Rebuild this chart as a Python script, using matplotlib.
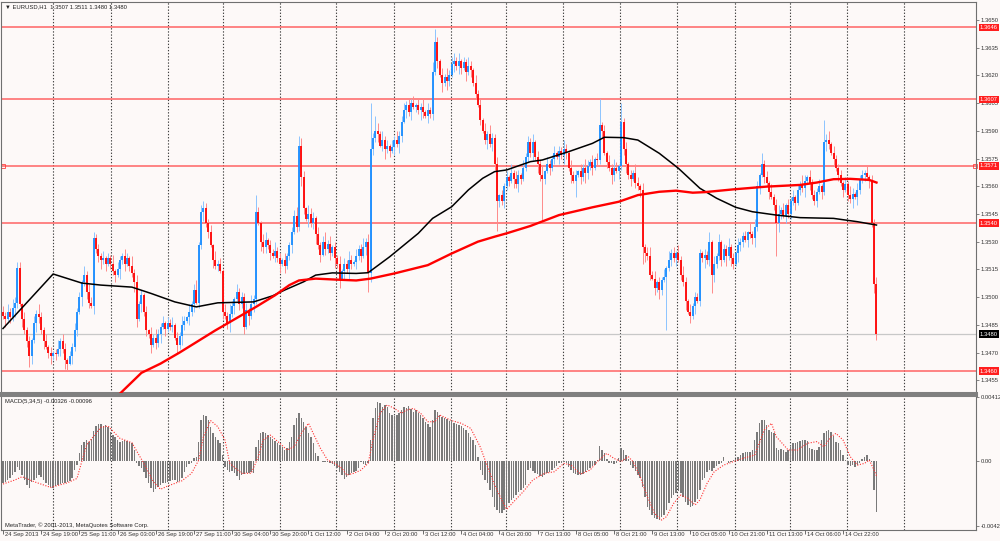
# EURUSD H1 chart in the MetaTrader style: candles, two moving averages, levels, MACD
import numpy as np
import matplotlib
matplotlib.use("Agg")
import matplotlib.pyplot as plt
import matplotlib.transforms as mtransforms
from matplotlib import font_manager

installed = {f.name for f in font_manager.fontManager.ttflist}
if 'Liberation Sans Narrow' in installed:
    FAM = ['Liberation Sans Narrow', 'DejaVu Sans']
    FS = 5.1
else:
    FAM = ['Liberation Sans', 'DejaVu Sans']
    FS = 4.2
plt.rcParams['font.family'] = FAM

# closes in pips above 1.3400, one per hourly bar
closes = [
    90, 88, 92, 89, 94, 97, 116, 96, 88, 82,
    76, 68, 77, 86, 91, 89, 82, 76, 73, 70,
    68, 70, 69, 72, 76, 72, 66, 64, 68, 73,
    82, 92, 100, 108, 112, 103, 97, 95, 132, 126,
    122, 120, 121, 118, 121, 118, 114, 112, 115, 120,
    122, 118, 121, 117, 113, 108, 88, 96, 101, 92,
    82, 80, 74, 78, 75, 80, 84, 86, 83, 86,
    84, 85, 78, 74, 79, 85, 87, 89, 92, 96,
    104, 97, 128, 146, 148, 140, 135, 128, 120, 117,
    118, 114, 92, 90, 86, 91, 95, 99, 103, 96,
    100, 84, 93, 90, 96, 99, 146, 140, 130, 127,
    131, 128, 124, 122, 125, 121, 118, 120, 117, 122,
    128, 135, 144, 138, 182, 165, 148, 142, 145, 140,
    143, 134, 128, 123, 130, 126, 129, 124, 127, 121,
    118, 110, 114, 118, 115, 120, 118, 119, 122, 126,
    122, 127, 130, 113, 180, 186, 190, 188, 182, 185,
    180, 182, 179, 181, 185, 183, 187, 195, 201, 204,
    200, 205, 203, 204, 201, 203, 200, 198, 201, 199,
    222, 238, 228, 220, 216, 219, 217, 220, 226, 228,
    225, 228, 224, 227, 222, 225, 223, 216, 210, 204,
    196, 190, 185, 188, 183, 186, 172, 152, 155, 152,
    160, 165, 163, 167, 164, 161, 166, 164, 170, 176,
    184, 178, 184, 176, 172, 166, 164, 168, 172, 170,
    175, 178, 176, 179, 177, 180, 178, 170, 166, 163,
    166, 168, 165, 170, 167, 171, 173, 170, 175, 174,
    193, 190, 178, 173, 170, 166, 170, 168, 171, 195,
    180, 172, 166, 164, 167, 162, 160, 158, 127, 124,
    122, 112, 110, 105, 108, 104, 109, 111, 116, 120,
    124, 121, 124, 120, 112, 108, 98, 92, 90, 95,
    100, 98, 124, 121, 123, 120, 130, 112, 118, 122,
    130, 120, 126, 122, 127, 121, 118, 124, 128, 130,
    133, 131, 135, 134, 132, 138, 160, 166, 172, 165,
    162, 157, 154, 150, 140, 145, 147, 144, 150, 145,
    152, 154, 151, 158, 161, 159, 163, 165, 162, 155,
    152, 157, 160, 157, 184, 185, 183, 178, 175, 170,
    166, 162, 158, 161, 155, 153, 156, 154, 158, 164,
    166, 167, 165, 163, 140, 107, 80,
]
first_open = 92

# wick lengths in pips above / below the body, one digit per bar
up_wick = "".join([
    "3242532314", "2314253241", "3125243132", "4231524312", "3241325142",
    "2431524231", "3142532413", "2413253142", "3524132415", "2314253142",
    "3241525314", "4132523142", "2315243153", "3142352413", "2413253142",
    "3524132425", "2314253142", "3241325142", "5231425314", "2413253142",
    "3142532413", "2315243142", "3241325142", "2413253142", "3142532413",
    "6231425314", "2413253142", "3524132415", "2314253142", "3241325142",
    "4132523142", "2315243153", "3142352413", "2413253142", "3241325142",
    "2314253142", "3241324",
])
dn_wick = "".join([
    "2413253142", "3142532413", "4231425314", "2315243142", "3524132415",
    "2413253142", "3241325142", "2314253142", "4132523142", "3142352413",
    "2315243153", "3241325142", "2413253142", "3524132425", "2314253142",
    "3142532413", "5231425314", "2413253142", "3241525314", "2431524231",
    "3125243132", "4231524312", "3242532314", "2314253241", "3142532413",
    "2413253142", "3524132415", "2314253142", "3241325142", "4132523142",
    "2315243153", "3142352413", "2413253142", "3241325142", "2314253142",
    "3241325142", "2314253",
])
# long wicks (pips above 1.3400)
hi_fix = {6: 119, 38: 135, 80: 107, 83: 150, 84: 152, 106: 155, 122: 147,
          124: 187, 154: 205, 156: 198, 167: 198, 181: 245, 188: 230,
          250: 207, 259: 205, 292: 126, 316: 163, 318: 178, 319: 174,
          344: 196, 345: 188, 366: 111}
lo_fix = {11: 62, 27: 60, 56: 84, 101: 80, 141: 105, 153: 103, 207: 136,
          226: 140, 240: 154, 268: 118, 278: 82, 288: 86, 297: 102, 324: 122}

# moving averages (bar, pips)
black_ma_x = [0, 21, 33, 41, 54, 62, 72, 81, 90, 105, 113, 118, 126, 131, 138,
              148, 153, 162, 174, 180, 188, 195, 201, 206, 211, 221, 226, 237,
              247, 252, 260, 266, 275, 283, 292, 299, 307, 314, 324, 334, 348,
              358, 366]
black_ma_y = [83, 112.5, 107.6, 106.5, 105.4, 102, 97.4, 94.7, 96.9, 97.4,
              100.7, 103.8, 108.3, 111.9, 113.1, 112.8, 113.2, 121.8, 134.5,
              142.6, 148.9, 158, 164.3, 167.9, 168.8, 173.3, 174.2, 178.7,
              183.2, 186.5, 186.3, 185, 177.8, 169.7, 158.9, 153.5, 148.6,
              146.2, 144.4, 143, 142.6, 140.8, 139]
red_ma_x = [46, 58, 66, 74, 89, 106, 114, 120, 124, 131, 139, 148, 154, 164,
            178, 188, 199, 206, 211, 221, 233, 247, 258, 266, 275, 282, 289,
            294, 306, 320, 334, 341, 348, 355, 363, 366]
red_ma_y = [44, 59, 64, 70, 82, 94.7, 101, 106.5, 109, 110, 109.5, 109, 110,
            112.8, 117.3, 123.6, 130, 132.7, 134.5, 138.5, 144.4, 148.6, 151.6,
            155.2, 157, 157.6, 156.5, 156.8, 158.3, 159.8, 160.7, 162, 163.8,
            164, 163.4, 162]

# MACD main, units of 1e-5
macd = [
    -144, -133, -122, -112, -90, -69, -36, -58, -90, -122,
    -155, -176, -133, -122, -112, -90, -101, -122, -144, -155,
    -170, -176, -161, -155, -148, -140, -144, -137, -129, -112,
    -58, -26, 49, 103, 125, 135, 125, 140, 195, 225,
    238, 238, 225, 232, 217, 189, 167, 152, 135, 125,
    131, 135, 131, 125, 114, 71, -15, -32, -47, -69,
    -112, -144, -176, -198, -182, -170, -155, -144, -140, -133,
    -127, -122, -122, -133, -127, -112, -69, -36, -21, -11,
    17, 28, 125, 264, 296, 290, 264, 221, 178, 152,
    135, 118, 39, -36, -58, -69, -62, -79, -97, -122,
    -90, -84, -75, -79, -69, -75, 92, 135, 178, 189,
    178, 167, 152, 140, 131, 118, 103, 88, 71, 82,
    125, 157, 232, 275, 311, 275, 253, 221, 178, 157,
    114, 49, 32, 2, -4, -6, -4, -15, -19, -32,
    -47, -69, -90, -118, -105, -90, -79, -69, -62, -47,
    -4, -21, -26, -15, 135, 275, 339, 382, 371, 350,
    361, 350, 307, 296, 290, 296, 307, 328, 350, 339,
    354, 333, 318, 328, 311, 296, 275, 253, 238, 221,
    264, 328, 318, 296, 285, 275, 268, 260, 253, 243,
    238, 232, 225, 210, 200, 178, 157, 135, 103, 28,
    -58, -90, -122, -144, -187, -230, -294, -316, -333, -337,
    -316, -294, -273, -251, -240, -219, -198, -187, -176, -155,
    -58, -47, -62, -75, -84, -97, -105, -90, -79, -69,
    -58, -47, -32, -15, -11, -6, -15, -36, -58, -75,
    -84, -90, -90, -84, -69, -58, -47, -32, -26, 6,
    97, 71, 49, 11, -11, -15, -19, -15, 17, 82,
    71, 39, 11, -26, -47, -62, -90, -112, -165, -230,
    -294, -316, -348, -369, -376, -380, -363, -348, -316, -273,
    -240, -219, -204, -191, -208, -230, -262, -283, -294, -290,
    -262, -247, -187, -122, -112, -69, -58, -62, -47, -32,
    -19, -15, 24, 2, -11, -6, 6, 11, 24, 39,
    49, 60, 60, 60, 71, 135, 189, 243, 264, 264,
    232, 200, 189, 178, 82, 71, 75, 71, 60, 71,
    92, 114, 118, 125, 131, 135, 135, 131, 82, 75,
    71, 71, 92, 135, 178, 193, 200, 189, 161, 125,
    114, 71, 39, 6, -26, -32, -26, -36, -26, -15,
    11, 24, 39, 11, -4, -187, -326,
]
# MACD signal line, read at selected bars (units of 1e-5)
signal_x = [0, 5, 8, 13, 20, 27, 31, 33, 35, 41, 44, 49, 54, 59, 63, 66, 69,
            75, 79, 82, 84, 87, 90, 93, 95, 100, 104, 107, 109, 112, 116, 119,
            122, 125, 128, 130, 133, 136, 139, 142, 144, 147, 150, 153, 155,
            158, 161, 164, 167, 169, 172, 175, 178, 181, 183, 188, 192, 196,
            200, 203, 206, 209, 211, 214, 218, 222, 227, 231, 235, 238, 242,
            246, 249, 253, 256, 259, 262, 264, 267, 270, 273, 276, 278, 281,
            284, 287, 290, 292, 295, 298, 302, 306, 310, 315, 319, 322, 324,
            329, 333, 337, 341, 344, 347, 349, 352, 355, 358, 361, 363, 365, 366]
signal_y = [-148, -122, -101, -133, -170, -140, -112, -4, 103, 217, 225, 146,
            118, -15, -133, -182, -161, -127, -79, 6, 157, 260, 221, 135, -15,
            -79, -79, 28, 135, 167, 114, 71, 92, 178, 243, 178, 82, 6, -15,
            -47, -90, -79, -58, -15, 135, 307, 361, 339, 307, 328, 339, 307,
            253, 253, 296, 260, 243, 210, 90, -36, -155, -251, -311, -262,
            -197, -122, -79, -69, -15, -26, -84, -58, -4, 49, 17, -4, 28, -4,
            -101, -230, -337, -380, -358, -273, -219, -240, -283, -251, -144,
            -69, -26, -4, 17, 39, 200, 243, 157, 71, 71, 114, 125, 92, 157,
            178, 135, 28, -26, -15, 6, -58, -96]

levels = [1.3646, 1.3607, 1.3571, 1.3540, 1.3460]
last_price = 1.3480
price_ticks = [1.3650, 1.3635, 1.3620, 1.3605, 1.3590, 1.3575, 1.3560, 1.3545,
               1.3530, 1.3515, 1.3500, 1.3485, 1.3470, 1.3455]
date_labels = ["24 Sep 2013", "24 Sep 19:00", "25 Sep 11:00", "26 Sep 03:00",
               "26 Sep 19:00", "27 Sep 11:00", "30 Sep 04:00", "30 Sep 20:00",
               "1 Oct 12:00", "2 Oct 04:00", "2 Oct 20:00", "3 Oct 12:00",
               "4 Oct 04:00", "4 Oct 20:00", "7 Oct 13:00", "8 Oct 05:00",
               "8 Oct 21:00", "9 Oct 13:00", "10 Oct 05:00", "10 Oct 21:00",
               "11 Oct 13:00", "14 Oct 06:00", "14 Oct 22:00"]
grid_bars = [20.9, 45.2, 69.1, 92.1, 115.9, 139.4, 163.7, 187.9, 210.9, 234.8,
             258.7, 282.5, 306.8, 329.8, 353.7, 377.6]


def P(p):
    return 1.34 + np.asarray(p, dtype=float) / 10000.0


bg = '#fdf9f8'
n = len(closes)
idx = np.arange(n)
c = np.array(closes, dtype=float)
o = np.array([first_open] + closes[:-1], dtype=float)
up = np.array([int(ch) for ch in up_wick[:n]])
dn = np.array([int(ch) for ch in dn_wick[:n]])
h = np.maximum(o, c) + up
lo = np.minimum(o, c) - dn
for k, v in hi_fix.items():
    h[k] = v
for k, v in lo_fix.items():
    lo[k] = v

fig = plt.figure(figsize=(10, 5.41), dpi=100, facecolor=bg)
ax = fig.add_axes([0.001, 0.27357, 0.975, 0.72273], facecolor=bg)
ax2 = fig.add_axes([0.001, 0.02033, 0.975, 0.24954], facecolor=bg)

xlim = (-0.84, 407.7)
for a in (ax, ax2):
    a.set_xlim(*xlim)
    for g in grid_bars:
        a.axvline(g, color='#404040', lw=0.8, ls=(0, (1.2, 1.6)), zorder=0.5)
    for s in a.spines.values():
        s.set_color('#707070')
        s.set_linewidth(0.8)

# --- price panel
ax.set_ylim(1.34481, 1.36597)
for v in levels:
    ax.axhline(v, color='#ff6464', lw=1.1, zorder=1)
ax.axhline(last_price, color='#c8c8c8', lw=0.9, zorder=1)
ax.plot([0.2, 407.2], [1.3571, 1.3571], ls='none', marker='s', ms=2.2,
        mfc='none', mec='#ff4040', mew=0.6, clip_on=False, zorder=2)

bull = c >= o
body_lo = np.minimum(o, c)
body_hi = np.maximum(o, c)
body_hi = np.where(body_hi - body_lo < 0.6, body_lo + 0.6, body_hi)
ax.vlines(idx[bull], P(lo[bull]), P(h[bull]), color='#8cc4ff', lw=0.7, zorder=2)
ax.vlines(idx[~bull], P(lo[~bull]), P(h[~bull]), color='#ff8a8a', lw=0.7, zorder=2)
ax.vlines(idx[bull], P(body_lo[bull]), P(body_hi[bull]), color='#1e8fff', lw=1.35, zorder=2.2)
ax.vlines(idx[~bull], P(body_lo[~bull]), P(body_hi[~bull]), color='#ff0a0a', lw=1.35, zorder=2.2)

ax.plot(black_ma_x, P(black_ma_y), color='black', lw=1.1, zorder=3)
ax.plot(red_ma_x, P(red_ma_y), color='#ff0000', lw=1.7, zorder=3)

ax.yaxis.tick_right()
ax.set_yticks(price_ticks)
ax.set_yticklabels([f"{v:.4f}" for v in price_ticks])
ax.tick_params(axis='y', length=2, width=0.6, pad=1.5, labelsize=FS,
               labelcolor='#333333', color='#707070')
ax.tick_params(axis='x', bottom=False, labelbottom=False)
ax.spines['bottom'].set_linewidth(2.2)
ax.spines['bottom'].set_color('#808080')

edge = mtransforms.blended_transform_factory(ax.transAxes, ax.transData)
for v in levels:
    ax.text(1.004, v, f"{v:.4f}", transform=edge, ha='left', va='center',
            fontsize=FS, color='white', clip_on=False, zorder=10,
            bbox=dict(boxstyle='square,pad=0.22', fc='#ff1e1e', ec='none'))
ax.text(1.004, last_price, f"{last_price:.4f}", transform=edge, ha='left',
        va='center', fontsize=FS, color='white', clip_on=False, zorder=10,
        bbox=dict(boxstyle='square,pad=0.22', fc='black', ec='none'))

ax.text(0.004, 0.987, "\u25bc EURUSD,H1  1.3507 1.3511 1.3480 1.3480",
        transform=ax.transAxes, ha='left', va='center', fontsize=FS,
        color='#222222')

# --- MACD panel
ax2.set_ylim(-0.00444, 0.00425)
ax2.bar(idx, np.array(macd) * 1e-5, width=0.6, color='#7a7a7a', zorder=2)
ax2.plot(signal_x, np.array(signal_y) * 1e-5, color='#ff3030', lw=0.8,
         ls=(0, (1, 1.4)), zorder=3)
ax2.yaxis.tick_right()
ax2.set_yticks([0.00412, 0.0, -0.00421])
ax2.set_yticklabels(["0.00412", "0.00", "-0.00421"])
ax2.tick_params(axis='y', length=2, width=0.6, pad=1.5, labelsize=FS,
                labelcolor='#333333', color='#707070')
ax2.spines['top'].set_linewidth(2.2)
ax2.spines['top'].set_color('#808080')

ax2.text(0.004, 0.955, "MACD(5,34,5) -0.00326 -0.00096", transform=ax2.transAxes,
         ha='left', va='center', fontsize=FS, color='#222222')
ax2.text(0.004, 0.035, "MetaTrader, \u00a9 2001-2013, MetaQuotes Software Corp.",
         transform=ax2.transAxes, ha='left', va='center', fontsize=FS,
         color='#222222')

tick_bars = [16 * k for k in range(len(date_labels))]
ax2.set_xticks(tick_bars)
ax2.tick_params(axis='x', length=3, width=0.6, color='#555555', labelbottom=False)
lab_tr = mtransforms.offset_copy(
    mtransforms.blended_transform_factory(ax2.transData, ax2.transAxes),
    fig=fig, x=2, y=0, units='dots')
for b, lab in zip(tick_bars, date_labels):
    ax2.text(b, -0.037, lab, transform=lab_tr, ha='left', va='center',
             fontsize=FS, color='#333333', clip_on=False)

fig.savefig("out.png", dpi=100, facecolor=bg)
